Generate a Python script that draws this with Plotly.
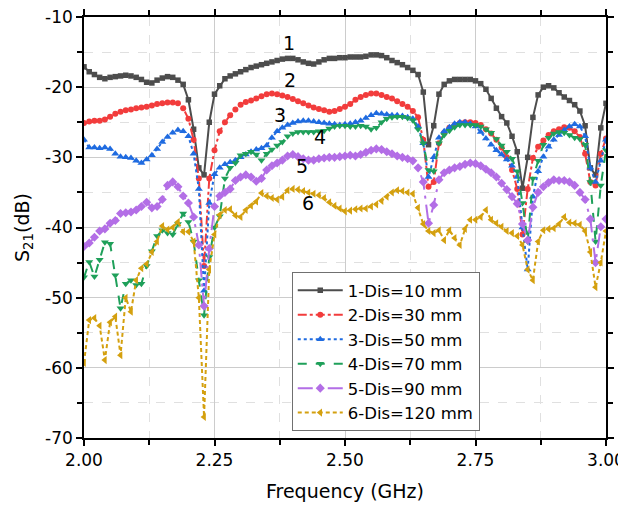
import numpy as np
import plotly.graph_objects as go

freq = [round(2.00 + 0.01 * i, 2) for i in range(101)]

s_10mm = [-17.1, -17.8, -18.2, -18.6, -18.8, -18.6, -18.5, -18.4, -18.3, -18.4,
          -18.6, -18.9, -19.3, -19.4, -19.0, -18.7, -18.5, -18.6, -19.0, -19.6,
          -21.8, -26.0, -31.5, -32.5, -25.0, -21.0, -19.8, -18.8, -18.4, -18.1,
          -17.8, -17.5, -17.2, -17.0, -16.8, -16.6, -16.4, -16.2, -16.0, -15.9,
          -15.9, -16.1, -16.4, -16.6, -16.7, -16.4, -16.1, -15.9, -15.9, -15.8,
          -15.8, -15.7, -15.7, -15.7, -15.6, -15.4, -15.4, -15.5, -15.8, -16.2,
          -16.5, -16.8, -17.2, -17.6, -18.2, -20.7, -28.2, -25.5, -21.0, -19.6,
          -19.1, -18.9, -18.9, -18.9, -18.9, -19.1, -19.5, -20.3, -21.6, -23.0,
          -24.2, -25.1, -27.0, -29.2, -34.4, -30.0, -24.3, -21.1, -20.0, -19.8,
          -20.1, -20.8, -21.4, -21.9, -22.5, -23.4, -25.5, -31.5, -32.5, -25.8,
          -22.3]

s_30mm = [-25.1, -24.9, -24.8, -24.8, -24.6, -24.2, -23.8, -23.5, -23.3, -23.2,
          -23.0, -22.9, -22.8, -22.6, -22.4, -22.3, -22.2, -22.2, -22.3, -23.0,
          -24.5, -27.5, -33.0, -45.5, -33.0, -29.0, -26.3, -25.0, -24.0, -23.2,
          -22.5, -22.1, -21.9, -21.6, -21.3, -21.0, -20.9, -21.0, -21.2, -21.4,
          -21.7, -22.0, -22.3, -22.6, -22.9, -23.1, -23.3, -23.5, -23.4, -23.1,
          -22.8, -22.4, -21.8, -21.4, -21.1, -20.9, -20.9, -21.1, -21.4, -21.6,
          -22.0, -22.4, -22.8, -23.4, -24.3, -27.5, -34.2, -33.5, -28.0, -26.5,
          -25.8, -25.4, -25.1, -25.0, -25.0, -25.1, -25.4, -26.0, -26.6, -27.5,
          -28.6, -30.0, -31.8, -34.5, -41.0, -34.5, -30.1, -28.5, -27.6, -26.8,
          -26.3, -26.0, -25.7, -25.8, -26.3, -27.1, -29.5, -33.5, -34.0, -29.5,
          -27.3]

s_50mm = [-27.5, -28.6, -28.6, -28.7, -28.6, -28.8, -29.5, -29.9, -30.0, -30.1,
          -30.5, -30.8, -30.3, -29.7, -28.8, -27.8, -27.1, -26.5, -26.1, -26.3,
          -27.0, -29.5, -34.5, -49.0, -36.5, -32.4, -31.5, -31.0, -30.7, -30.4,
          -30.0, -29.6, -29.2, -28.9, -28.7, -28.3, -27.2, -26.3, -25.8, -25.4,
          -25.1, -24.9, -24.8, -24.8, -24.9, -25.0, -25.1, -25.2, -25.3, -25.4,
          -25.3, -25.2, -25.0, -24.8, -24.4, -24.0, -23.7, -23.8, -23.9, -24.0,
          -24.0, -24.1, -24.3, -24.5, -25.6, -28.0, -32.8, -30.0, -27.2, -26.3,
          -25.7, -25.2, -25.0, -25.0, -25.2, -25.6, -26.4, -27.3, -28.2, -29.0,
          -29.6, -30.3, -31.2, -32.8, -40.0, -46.0, -35.6, -32.0, -29.9, -28.5,
          -27.5, -26.8, -26.1, -25.6, -25.3, -25.6, -27.0, -31.5, -33.5, -30.5,
          -27.5]

s_70mm = [-47.1, -44.9, -47.0, -44.6, -42.1, -42.3, -46.8, -51.5, -48.0, -47.5,
          -48.2, -48.0, -45.5, -43.4, -41.2, -40.4, -40.8, -41.0, -39.5, -38.0,
          -39.2, -42.0, -47.5, -52.5, -44.2, -40.0, -38.4, -33.0, -31.5, -30.8,
          -29.7, -29.5, -29.2, -29.6, -30.4, -29.5, -28.9, -28.3, -27.8, -27.0,
          -26.6, -26.4, -26.4, -26.4, -26.4, -26.3, -26.2, -25.9, -25.6, -25.5,
          -25.5, -25.6, -25.6, -25.5, -25.6, -26.0, -25.8, -25.0, -24.5, -24.3,
          -24.2, -24.2, -24.4, -24.7, -26.0, -28.0, -31.8, -32.0, -28.0, -26.8,
          -26.2, -25.7, -25.4, -25.4, -25.4, -25.4, -25.6, -26.0, -26.5, -27.4,
          -28.3, -29.2, -30.2, -32.0, -36.5, -42.0, -33.0, -30.5, -28.2, -27.2,
          -26.6, -26.4, -26.5, -26.8, -27.2, -27.4, -28.2, -33.5, -42.0, -34.0,
          -29.0]

s_90mm = [-42.7, -42.2, -41.4, -40.5, -40.2, -39.4, -39.0, -38.0, -37.9, -37.8,
          -37.5, -37.0, -36.4, -37.2, -37.0, -36.0, -34.0, -33.5, -34.2, -35.5,
          -36.5, -38.5, -42.5, -51.2, -43.0, -37.0, -35.5, -35.0, -34.5, -33.3,
          -32.8, -32.5, -32.8, -33.4, -33.0, -31.8, -31.2, -30.8, -30.4, -29.8,
          -29.6, -29.9, -30.2, -30.4, -30.4, -30.2, -30.1, -30.0, -30.0, -29.9,
          -29.8, -29.7, -29.8, -29.6, -29.3, -29.0, -28.8, -28.9, -29.2, -29.5,
          -29.8, -30.0, -30.2, -30.5, -31.5, -33.5, -39.4, -36.8, -33.2, -32.2,
          -31.8, -31.5, -31.3, -31.0, -30.8, -30.9, -31.2, -31.7, -32.2, -32.8,
          -33.7, -34.6, -35.6, -36.6, -39.5, -41.8, -37.1, -35.0, -34.2, -33.6,
          -33.2, -33.3, -33.3, -33.5, -34.0, -35.0, -36.0, -38.8, -45.0, -39.9,
          -38.8]

s_120mm = [-59.3, -53.2, -52.9, -54.0, -58.9, -53.5, -52.7, -58.2, -50.0, -52.0,
           -47.5, -45.8, -45.2, -43.5, -42.0, -39.8, -40.3, -40.0, -39.2, -40.6,
           -40.6, -42.0, -50.0, -67.0, -46.0, -41.0, -38.2, -37.5, -37.4, -38.3,
           -38.5, -37.5, -36.9, -36.3, -35.1, -35.5, -35.8, -36.0, -35.6, -34.7,
           -34.5, -34.6, -34.8, -35.0, -35.2, -35.4, -35.8, -36.4, -36.9, -37.3,
           -37.7, -37.6, -37.4, -37.3, -37.3, -37.0, -36.7, -36.2, -35.6, -35.0,
           -34.7, -34.8, -35.0, -35.2, -37.2, -39.5, -40.5, -40.8, -40.4, -41.8,
           -40.4, -41.5, -42.5, -40.2, -38.9, -38.9, -38.5, -37.5, -38.9, -39.4,
           -39.9, -40.5, -40.8, -41.2, -42.5, -46.0, -47.5, -42.0, -40.4, -40.2,
           -40.1, -39.5, -38.5, -39.3, -39.4, -39.6, -40.5, -43.5, -48.5, -45.0,
           -40.5]

series_names = ["1-Dis=10 mm", "2-Dis=30 mm", "3-Dis=50 mm",
                "4-Dis=70 mm", "5-Dis=90 mm", "6-Dis=120 mm"]
series_values = [s_10mm, s_30mm, s_50mm, s_70mm, s_90mm, s_120mm]

x_tick_vals = [2.00, 2.25, 2.50, 2.75, 3.00]
x_tick_text = ["2.00", "2.25", "2.50", "2.75", "3.00"]
y_tick_vals = [-70, -60, -50, -40, -30, -20, -10]
y_tick_text = ["-70", "-60", "-50", "-40", "-30", "-20", "-10"]

label_text = ["1", "2", "3", "4", "5", "6"]
label_x = [2.393, 2.395, 2.375, 2.452, 2.418, 2.429]
label_y = [-13.7, -19.0, -24.0, -27.1, -31.2, -36.5]

colors = ["#4d4d4d", "#f23c3c", "#1f6be0", "#1fa05a", "#b36ee6", "#d4a00f"]
dashes = ["solid", "dashdot", "dot", "dash", "longdashdot", "4px,3px"]
symbols = ["square", "circle", "triangle-up", "triangle-down", "diamond", "triangle-left"]
msizes = [5.5, 6, 7, 7, 7, 7]

FONT = "DejaVu Sans"

fig = go.Figure()
for name, vals, c, d, s, ms in zip(series_names, series_values, colors, dashes, symbols, msizes):
    fig.add_trace(go.Scatter(
        x=freq, y=vals, name=name, mode="lines+markers",
        line=dict(color=c, width=2, dash=d),
        marker=dict(symbol=s, size=ms, color=c),
    ))

for t, xx, yy in zip(label_text, label_x, label_y):
    fig.add_annotation(x=xx, y=yy, text=t, showarrow=False,
                       font=dict(size=19, color="black", family=FONT))

axis_common = dict(
    showline=True, linecolor="black", linewidth=1.5, mirror="ticks",
    ticks="outside", ticklen=6, tickwidth=1.5, tickcolor="black",
    showgrid=True, gridcolor="#cccccc", gridwidth=1,
    zeroline=False, automargin=False, ticklabeloverflow="allow",
    tickfont=dict(size=17, color="black", family=FONT),
)

fig.update_xaxes(
    range=[2.0, 3.0], tickmode="array", tickvals=x_tick_vals, ticktext=x_tick_text,
    title=dict(text="Frequency (GHz)", font=dict(size=19, color="black", family=FONT), standoff=16),
    minor=dict(tickmode="linear", tick0=2.0, dtick=0.125, ticks="outside", ticklen=5, tickwidth=1.5,
               tickcolor="black", showgrid=True, gridcolor="#e0e0e0", griddash="dash", gridwidth=1),
    **axis_common,
)
fig.update_yaxes(
    range=[-70, -10], tickmode="array", tickvals=y_tick_vals, ticktext=y_tick_text,
    title=dict(text="S<sub>21</sub>(dB)", font=dict(size=19, color="black", family=FONT), standoff=10),
    minor=dict(tickmode="linear", tick0=-70, dtick=5, ticks="outside", ticklen=5, tickwidth=1.5,
               tickcolor="black", showgrid=True, gridcolor="#e0e0e0", griddash="dash", gridwidth=1),
    **axis_common,
)

# the page body has an 8px margin, so the figure is sized to fit the window
fig.update_layout(
    width=618, height=502,
    margin=dict(l=76, r=20, t=9, b=72),
    paper_bgcolor="white", plot_bgcolor="white",
    font=dict(family=FONT, color="black"),
    legend=dict(
        x=0.398, y=0.394, xanchor="left", yanchor="top",
        bgcolor="white", bordercolor="#707070", borderwidth=1,
        font=dict(size=16.5, color="black", family=FONT),
        itemwidth=45, tracegroupgap=0,
    ),
    showlegend=True,
)

fig.write_html("out.html")
